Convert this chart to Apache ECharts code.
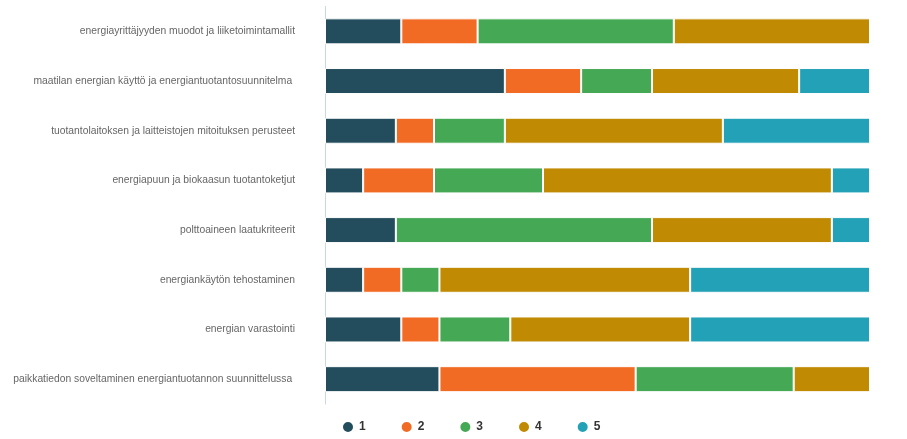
<!DOCTYPE html>
<html>
<head>
<meta charset="utf-8">
<script src="https://cdn.jsdelivr.net/npm/echarts@6/dist/echarts.min.js"></script>
<style>html,body{margin:0;padding:0;background:#fff}#c{width:907px;height:439px}</style>
</head>
<body>
<div id="c"></div>
<script>
const categories = [
  "energiayrittäjyyden muodot ja liiketoimintamallit",
  "maatilan energian käyttö ja energiantuotantosuunnitelma ",
  "tuotantolaitoksen ja laitteistojen mitoituksen perusteet",
  "energiapuun ja biokaasun tuotantoketjut",
  "polttoaineen laatukriteerit",
  "energiankäytön tehostaminen",
  "energian varastointi",
  "paikkatiedon soveltaminen energiantuotannon suunnittelussa "
];
const seriesNames = ["1", "2", "3", "4", "5"];
const s1 = [14, 33, 13, 7, 13, 7, 14, 21];
const s2 = [14, 14, 7, 13, 0, 7, 7, 36];
const s3 = [36, 13, 13, 20, 47, 7, 13, 29];
const s4 = [36, 27, 40, 53, 33, 46, 33, 14];
const s5 = [0, 13, 27, 7, 7, 33, 33, 0];
const colors = ["#234D5C", "#F26B24", "#45A855", "#C08A03", "#22A1B7"];

const values = [s1, s2, s3, s4, s5];
const chart = echarts.init(document.getElementById('c'), null, {renderer: 'canvas'});
chart.setOption({
  animation: false,
  color: colors,
  grid: {left: 325, right: 37, top: 6.5, bottom: 35, containLabel: false, outerBoundsMode: 'none'},
  legend: {
    left: 336, top: 415,
    icon: 'circle', itemWidth: 12, itemHeight: 12, itemGap: 34,
    textStyle: {color: '#333', fontWeight: 'bold', fontSize: 12, fontFamily: 'Liberation Sans, Arial, sans-serif'},
    data: seriesNames
  },
  xAxis: {
    type: 'value', min: 0, max: 100,
    axisLabel: {show: false}, splitLine: {show: false},
    axisLine: {show: false}, axisTick: {show: false}
  },
  yAxis: {
    type: 'category', inverse: true, data: categories,
    axisLine: {show: true, lineStyle: {color: '#ccd6eb'}},
    axisTick: {show: false},
    axisLabel: {color: '#666', fontSize: 10.3, margin: 30, fontFamily: 'Liberation Sans, Arial, sans-serif'}
  },
  series: seriesNames.map((n, i) => ({
    name: n, type: 'bar', stack: 'total', barWidth: 26,
    itemStyle: {color: colors[i], borderColor: '#fff', borderWidth: 1},
    data: values[i]
  }))
});
</script>
</body>
</html>
